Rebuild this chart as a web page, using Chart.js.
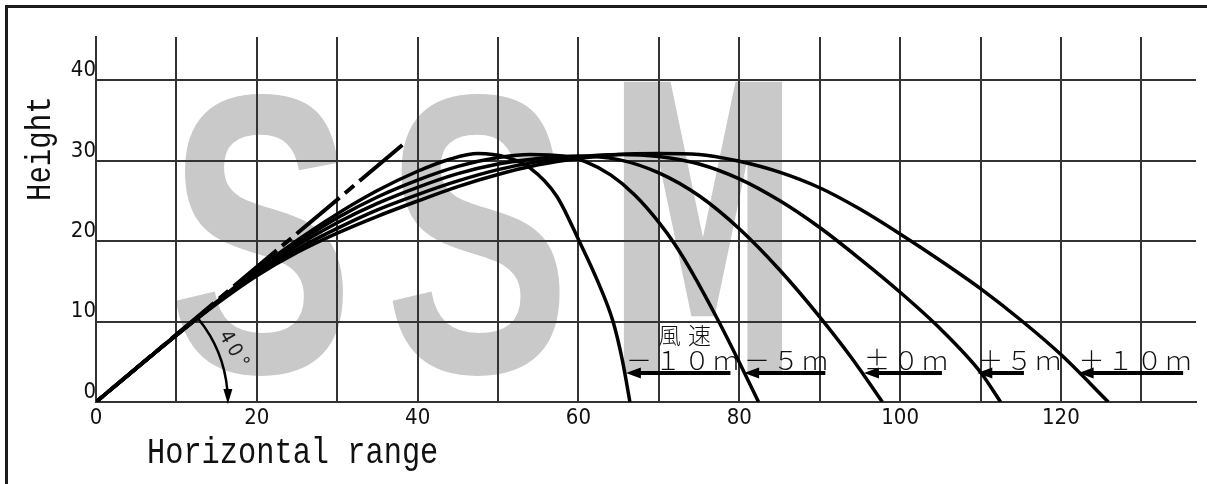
<!DOCTYPE html>
<html>
<head>
<meta charset="utf-8">
<script src="https://cdn.jsdelivr.net/npm/chart.js@4.4.1/dist/chart.umd.min.js"></script>
<style>
  html, body { margin: 0; padding: 0; background: #fff; }
  canvas { display: block; }
</style>
</head>
<body>
<canvas id="trajectory" width="1207" height="484"></canvas>
<script>
// Ball trajectories launched at 40°, for five wind speeds (m/s)
const rangeM10 = [0, 5, 10, 15, 20, 25, 30, 35, 40, 44, 47.5, 51, 54, 57.3, 60.1, 62.4, 64.3, 65.5, 66.4];
const heightM10 = [0, 4.19, 8.36, 12.45, 16.45, 20.1, 23.4, 26.3, 28.7, 30.2, 30.9, 30.45, 29.1, 25.6, 20.0, 15.0, 10.0, 5.0, 0];

const rangeM5 = [0, 5, 10, 15, 20, 25, 30, 35, 40, 45, 50, 54, 58, 61, 64, 67, 70, 72, 74, 77.3, 80, 82.4];
const heightM5 = [0, 4.19, 8.35, 12.4, 16.3, 19.8, 22.9, 25.5, 27.6, 29.3, 30.4, 30.8, 30.6, 29.85, 28.25, 25.75, 22.35, 19.6, 16.35, 10.3, 4.95, 0];

const rangeZero = [0, 5, 10, 15, 20, 25, 30, 35, 40, 45, 50, 55, 60, 65, 70, 75, 80, 85, 90, 94, 97.8];
const heightZero = [0, 4.19, 8.33, 12.35, 16.15, 19.45, 22.3, 24.7, 26.7, 28.4, 29.6, 30.3, 30.6, 30.15, 28.5, 25.65, 21.55, 16.45, 10.6, 5.45, 0];

const rangeP5 = [0, 5, 10, 15, 20, 25, 30, 35, 40, 45, 50, 55, 60, 65, 70, 75, 80, 85, 90, 95, 100, 105, 110, 112.5];
const heightP5 = [0, 4.19, 8.31, 12.3, 15.95, 19.0, 21.6, 23.9, 25.8, 27.5, 28.9, 29.9, 30.5, 30.8, 30.55, 29.6, 27.75, 25.05, 21.7, 17.8, 13.65, 9.1, 3.7, 0];

const rangeP10 = [0, 5, 10, 15, 20, 25, 30, 35, 40, 45, 50, 55, 60, 65, 70, 75, 80, 85, 90, 95, 100, 105, 110, 115, 120, 125.9];
const heightP10 = [0, 4.19, 8.29, 12.2, 15.7, 18.6, 21.0, 23.1, 25.0, 26.8, 28.3, 29.5, 30.3, 30.8, 30.9, 30.8, 29.95, 28.6, 26.65, 24.0, 20.9, 17.6, 14.1, 10.2, 5.9, 0];

// 40° launch direction (dashed guide)
const launchLineX = [38.1, 0];
const launchLineY = [31.97, 0];

// Wind-speed labels and the landing arrows that point at each curve
const windLabels = ['－１０ｍ', '－５ｍ', '±０ｍ', '＋５ｍ', '＋１０ｍ'];
const arrowTipX = [65.9, 80.6, 95.5, 109.6, 122.2];
const arrowTailX = [78.9, 90.7, 105.2, 115.4, 135.2];
const arrowLevel = 3.6;

// Axis grid and tick labels
const xGrid = [0, 10, 20, 30, 40, 50, 60, 70, 80, 90, 100, 110, 120, 130];
const xTickLabels = ['0', '', '20', '', '40', '', '60', '', '80', '', '100', '', '120', ''];
const yGrid = [0, 10, 20, 30, 40];
const yTickLabels = ['0', '10', '20', '30', '40'];

const launchAngle = 40;

const toPoints = (xs, ys) => xs.map((v, i) => ({ x: v, y: ys[i] }));

const curveStyle = {
  borderColor: '#000',
  borderWidth: 3.5,
  pointRadius: 0,
  cubicInterpolationMode: 'monotone',
  fill: false
};

const numberFont = '"DejaVu Sans Condensed", "Liberation Sans Narrow", sans-serif';
const monoFont = '"Liberation Mono", "DejaVu Sans Mono", monospace';
const cjkFont = '"Noto Sans CJK JP", "Noto Sans CJK SC", sans-serif';

// Paper frame and the grey "SSM" mark behind the grid
const backdrop = {
  id: 'backdrop',
  beforeDraw(chart) {
    const { ctx, width, height } = chart;
    ctx.save();
    ctx.fillStyle = '#fff';
    ctx.fillRect(0, 0, width, height);

    ctx.strokeStyle = '#1c1c1c';
    ctx.lineWidth = 3;
    ctx.beginPath();
    ctx.moveTo(6.5, height);
    ctx.lineTo(6.5, 6.5);
    ctx.lineTo(width, 6.5);
    ctx.stroke();

    ctx.fillStyle = '#c9c9c9';
    ctx.textBaseline = 'alphabetic';

    ctx.save();
    ctx.font = 'bold 398px "Liberation Sans", Arial, sans-serif';
    ctx.letterSpacing = '44px';
    ctx.translate(168, 372);
    ctx.scale(0.7, 1);
    ctx.fillText('SS', 0, 0);
    ctx.restore();

    ctx.save();
    ctx.font = 'bold 398px "DejaVu Sans", sans-serif';
    ctx.translate(606, 372);
    ctx.scale(0.49, 1);
    ctx.fillText('M', 0, 0);
    ctx.restore();

    ctx.restore();
  }
};

// Angle marker, wind labels with arrows, axis titles
const notes = {
  id: 'notes',
  afterDatasetsDraw(chart) {
    const { ctx, scales: { x, y } } = chart;
    const px = v => x.getPixelForValue(v);
    const py = v => y.getPixelForValue(v);
    ctx.save();
    ctx.fillStyle = '#000';
    ctx.strokeStyle = '#000';

    // launch angle arc with arrow down to the ground
    const ox = px(0), oy = py(0);
    const r = px(16.4) - ox;
    ctx.lineWidth = 2.5;
    ctx.beginPath();
    ctx.arc(ox, oy, r, -(launchAngle - 1) * Math.PI / 180, -5 * Math.PI / 180);
    ctx.stroke();
    ctx.beginPath();
    ctx.moveTo(ox + r, oy + 2);
    ctx.lineTo(ox + r - 4.5, oy - 13);
    ctx.lineTo(ox + r + 4.5, oy - 13);
    ctx.closePath();
    ctx.fill();

    ctx.save();
    ctx.translate(px(17.2), py(6.3));
    ctx.rotate(60 * Math.PI / 180);
    ctx.font = '20px ' + numberFont;
    ctx.letterSpacing = '4px';
    ctx.textAlign = 'center';
    ctx.textBaseline = 'middle';
    ctx.fillStyle = '#222';
    ctx.fillText(launchAngle + '°', 0, 0);
    ctx.restore();

    // wind speed caption
    ctx.save();
    ctx.font = '300 23px ' + cjkFont;
    ctx.letterSpacing = '7px';
    ctx.textAlign = 'left';
    ctx.textBaseline = 'alphabetic';
    ctx.fillStyle = '#111';
    ctx.fillText('風速', px(69.9), py(7.2));
    ctx.restore();

    // landing arrows
    windLabels.forEach((label, i) => {
      const tip = px(arrowTipX[i]);
      const tail = px(arrowTailX[i]);
      const ay = py(arrowLevel);
      ctx.lineWidth = 4;
      ctx.beginPath();
      ctx.moveTo(tail, ay);
      ctx.lineTo(tip + 10, ay);
      ctx.stroke();
      ctx.beginPath();
      ctx.moveTo(tip, ay);
      ctx.lineTo(tip + 15, ay - 5.5);
      ctx.lineTo(tip + 15, ay + 5.5);
      ctx.closePath();
      ctx.fill();

      ctx.save();
      ctx.font = '300 26px ' + cjkFont;
      ctx.letterSpacing = '3px';
      ctx.textAlign = 'left';
      ctx.textBaseline = 'alphabetic';
      ctx.fillStyle = '#111';
      ctx.fillText(label, tip, py(4.0));
      ctx.restore();
    });

    // axis titles
    ctx.fillStyle = '#111';
    ctx.textAlign = 'left';
    ctx.textBaseline = 'alphabetic';
    ctx.save();
    ctx.font = '37px ' + monoFont;
    ctx.translate(147, 463);
    ctx.scale(0.82, 1);
    ctx.fillText('Horizontal range', 0, 0);
    ctx.restore();

    ctx.save();
    ctx.font = '35px ' + monoFont;
    ctx.translate(50, 201);
    ctx.rotate(-Math.PI / 2);
    ctx.scale(0.83, 1);
    ctx.fillText('Height', 0, 0);
    ctx.restore();

    ctx.restore();
  }
};

new Chart(document.getElementById('trajectory'), {
  type: 'line',
  data: {
    datasets: [
      { label: '-10m', data: toPoints(rangeM10, heightM10), ...curveStyle },
      { label: '-5m', data: toPoints(rangeM5, heightM5), ...curveStyle },
      { label: '±0m', data: toPoints(rangeZero, heightZero), ...curveStyle },
      { label: '+5m', data: toPoints(rangeP5, heightP5), ...curveStyle },
      { label: '+10m', data: toPoints(rangeP10, heightP10), ...curveStyle },
      {
        label: '40°',
        data: toPoints(launchLineX, launchLineY),
        borderColor: '#000',
        borderWidth: 4,
        borderDash: [56, 7, 12, 7],
        pointRadius: 0,
        tension: 0,
        fill: false
      }
    ]
  },
  options: {
    responsive: false,
    animation: false,
    devicePixelRatio: 1,
    layout: { padding: { top: 37, right: 11, left: 0, bottom: 0 } },
    plugins: {
      legend: { display: false },
      tooltip: { enabled: false }
    },
    scales: {
      x: {
        type: 'linear',
        min: 0,
        max: 136.8,
        afterBuildTicks: s => { s.ticks = xGrid.map(v => ({ value: v })); },
        afterFit: s => { s.height = 82; },
        grid: { color: '#333', lineWidth: 2, drawTicks: false },
        border: { display: true, color: '#333', width: 2 },
        ticks: {
          padding: 3,
          maxRotation: 0,
          autoSkip: false,
          color: '#111',
          font: { family: numberFont, size: 22 },
          callback: (v, i) => xTickLabels[i]
        }
      },
      y: {
        type: 'linear',
        min: 0,
        max: 45.4,
        afterBuildTicks: s => { s.ticks = yGrid.map(v => ({ value: v })); },
        afterFit: s => { s.width = 96; },
        grid: { color: '#333', lineWidth: 2, drawTicks: false },
        border: { display: true, color: '#333', width: 2 },
        ticks: {
          padding: 0,
          labelOffset: -10,
          autoSkip: false,
          color: '#111',
          font: { family: numberFont, size: 22 },
          callback: (v, i) => yTickLabels[i]
        }
      }
    }
  },
  plugins: [backdrop, notes]
});
</script>
</body>
</html>
